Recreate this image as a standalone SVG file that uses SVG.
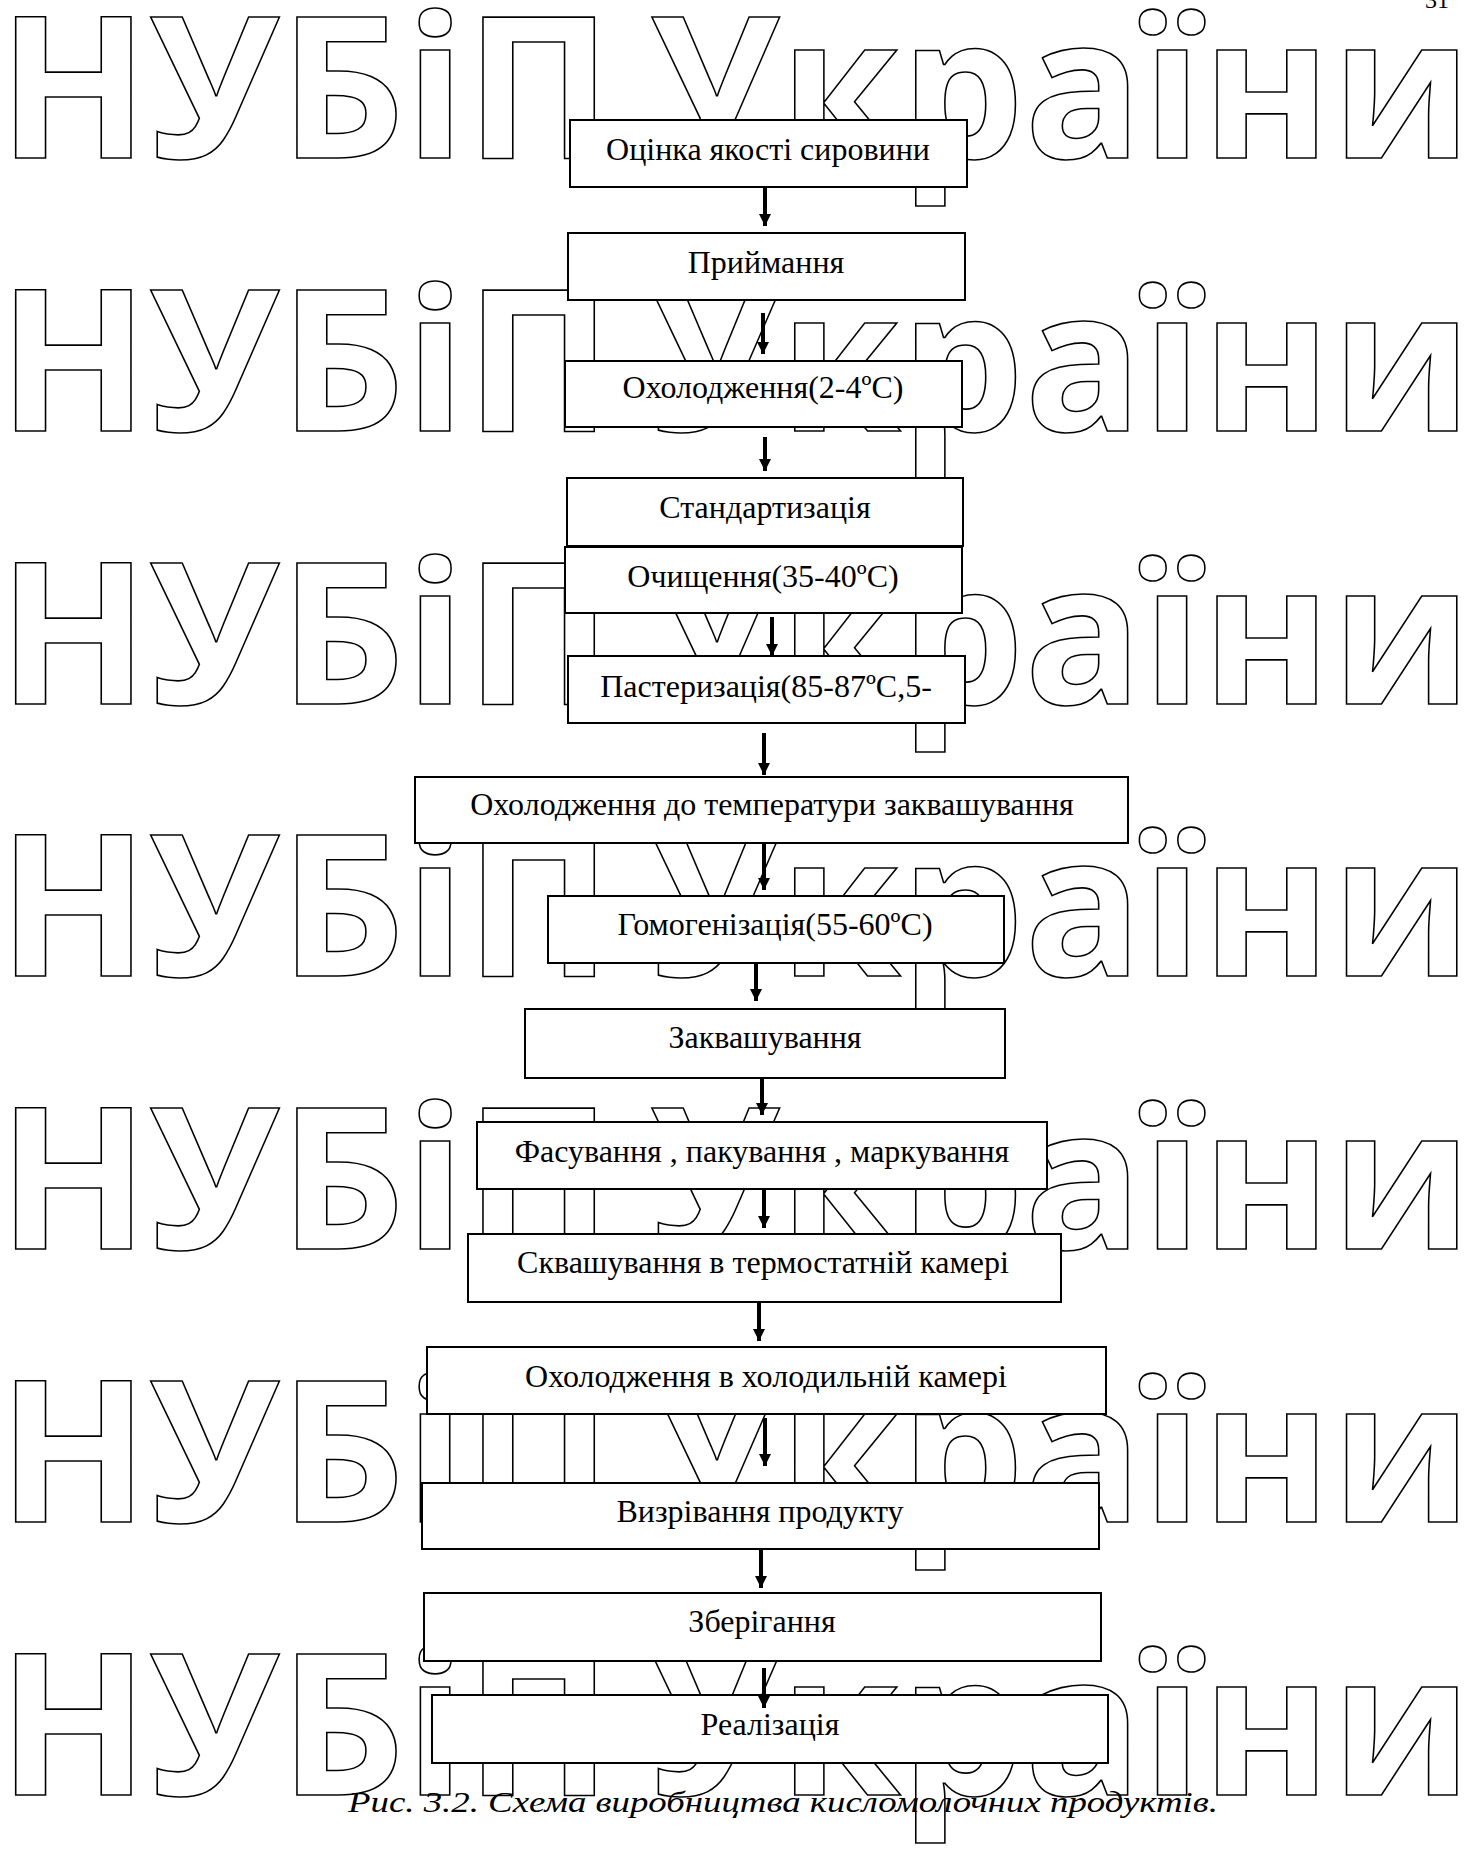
<svg xmlns="http://www.w3.org/2000/svg" width="1474" height="1851" viewBox="0 0 1474 1851">
<defs>
<style>
.wm{font-family:"Open Sans","DejaVu Sans",sans-serif;font-weight:700;font-size:198px;fill:none;stroke:#000;stroke-width:1.6}
.box{fill:#fff;stroke:#000;stroke-width:2}
.lbl{font-family:"Liberation Serif","Times New Roman",serif;font-size:32px;fill:#000;text-anchor:middle}
.arr{stroke:#000;stroke-width:4;fill:none;marker-end:url(#ah)}
.cap{font-family:"Liberation Serif","Times New Roman",serif;font-style:italic;font-size:30px;fill:#000}
</style>
<marker id="ah" markerWidth="4" markerHeight="3" refX="3" refY="1.5" orient="auto" markerUnits="strokeWidth">
<path d="M0,0 L3,1.5 L0,3 Z" fill="#000"/>
</marker>
</defs>
<rect width="1474" height="1851" fill="#fff"/>
<g id="watermark">
<text class="wm" x="-2" y="158" textLength="614" lengthAdjust="spacingAndGlyphs">НУБіП</text><text class="wm" x="650" y="158" textLength="822" lengthAdjust="spacingAndGlyphs">України</text>
<text class="wm" x="-2" y="431" textLength="614" lengthAdjust="spacingAndGlyphs">НУБіП</text><text class="wm" x="650" y="431" textLength="822" lengthAdjust="spacingAndGlyphs">України</text>
<text class="wm" x="-2" y="703.5" textLength="614" lengthAdjust="spacingAndGlyphs">НУБіП</text><text class="wm" x="650" y="703.5" textLength="822" lengthAdjust="spacingAndGlyphs">України</text>
<text class="wm" x="-2" y="976" textLength="614" lengthAdjust="spacingAndGlyphs">НУБіП</text><text class="wm" x="650" y="976" textLength="822" lengthAdjust="spacingAndGlyphs">України</text>
<text class="wm" x="-2" y="1249" textLength="614" lengthAdjust="spacingAndGlyphs">НУБіП</text><text class="wm" x="650" y="1249" textLength="822" lengthAdjust="spacingAndGlyphs">України</text>
<text class="wm" x="-2" y="1522" textLength="614" lengthAdjust="spacingAndGlyphs">НУБіП</text><text class="wm" x="650" y="1522" textLength="822" lengthAdjust="spacingAndGlyphs">України</text>
<text class="wm" x="-2" y="1795" textLength="614" lengthAdjust="spacingAndGlyphs">НУБіП</text><text class="wm" x="650" y="1795" textLength="822" lengthAdjust="spacingAndGlyphs">України</text>
</g>
<text x="1425" y="8" font-family="Liberation Serif, serif" font-size="24">31</text>
<g id="n1"><rect class="box" x="570" y="120" width="397" height="67"/><text class="lbl" x="768" y="160">Оцінка якості сировини</text></g>
<g id="n2"><rect class="box" x="568" y="233" width="397" height="67"/><text class="lbl" x="766" y="273">Приймання</text></g>
<g id="n3"><rect class="box" x="565" y="361" width="397" height="66"/><text class="lbl" x="763" y="398">Охолодження(2-4ºC)</text></g>
<g id="n4"><rect class="box" x="567" y="478" width="396" height="68"/><text class="lbl" x="765" y="518">Стандартизація</text></g>
<g id="n5"><rect class="box" x="565" y="547" width="397" height="66"/><text class="lbl" x="763" y="587">Очищення(35-40ºC)</text></g>
<g id="n6"><rect class="box" x="568" y="656" width="397" height="67"/><text class="lbl" x="766" y="697">Пастеризація(85-87ºC,5-</text></g>
<g id="n7"><rect class="box" x="415" y="777" width="713" height="66"/><text class="lbl" x="772" y="815">Охолодження до температури заквашування</text></g>
<g id="n8"><rect class="box" x="548" y="896" width="456" height="67"/><text class="lbl" x="775" y="935">Гомогенізація(55-60ºC)</text></g>
<g id="n9"><rect class="box" x="525" y="1009" width="480" height="69"/><text class="lbl" x="765" y="1048">Заквашування</text></g>
<g id="n10"><rect class="box" x="477" y="1122" width="570" height="67"/><text class="lbl" x="762" y="1162">Фасування , пакування , маркування</text></g>
<g id="n11"><rect class="box" x="468" y="1234" width="593" height="68"/><text class="lbl" x="763" y="1273">Сквашування в термостатній камері</text></g>
<g id="n12"><rect class="box" x="427" y="1347" width="679" height="67"/><text class="lbl" x="766" y="1387">Охолодження в холодильній камері</text></g>
<g id="n13"><rect class="box" x="422" y="1483" width="677" height="66"/><text class="lbl" x="760" y="1522">Визрівання продукту</text></g>
<g id="n14"><rect class="box" x="424" y="1593" width="677" height="68"/><text class="lbl" x="762" y="1632">Зберігання</text></g>
<g id="n15"><rect class="box" x="432" y="1695" width="676" height="68"/><text class="lbl" x="770" y="1735">Реалізація</text></g>
<g id="connectors">
<line class="arr" x1="765" y1="187" x2="765" y2="226"/>
<line class="arr" x1="763" y1="313" x2="763" y2="354"/>
<line class="arr" x1="765" y1="437" x2="765" y2="471"/>
<line class="arr" x1="772" y1="617" x2="772" y2="656"/>
<line class="arr" x1="764" y1="733" x2="764" y2="775"/>
<line class="arr" x1="764" y1="843" x2="764" y2="890"/>
<line class="arr" x1="756" y1="963" x2="756" y2="1001"/>
<line class="arr" x1="762" y1="1078" x2="762" y2="1115"/>
<line class="arr" x1="764" y1="1189" x2="764" y2="1228"/>
<line class="arr" x1="759" y1="1302" x2="759" y2="1341"/>
<line class="arr" x1="765" y1="1418" x2="765" y2="1466"/>
<line class="arr" x1="761" y1="1549" x2="761" y2="1588"/>
<line class="arr" x1="764" y1="1668" x2="764" y2="1708"/>
</g>
<text class="cap" x="348" y="1812" textLength="870" lengthAdjust="spacingAndGlyphs">Рис. 3.2. Схема виробництва кисломолочних продуктів.</text>
</svg>
